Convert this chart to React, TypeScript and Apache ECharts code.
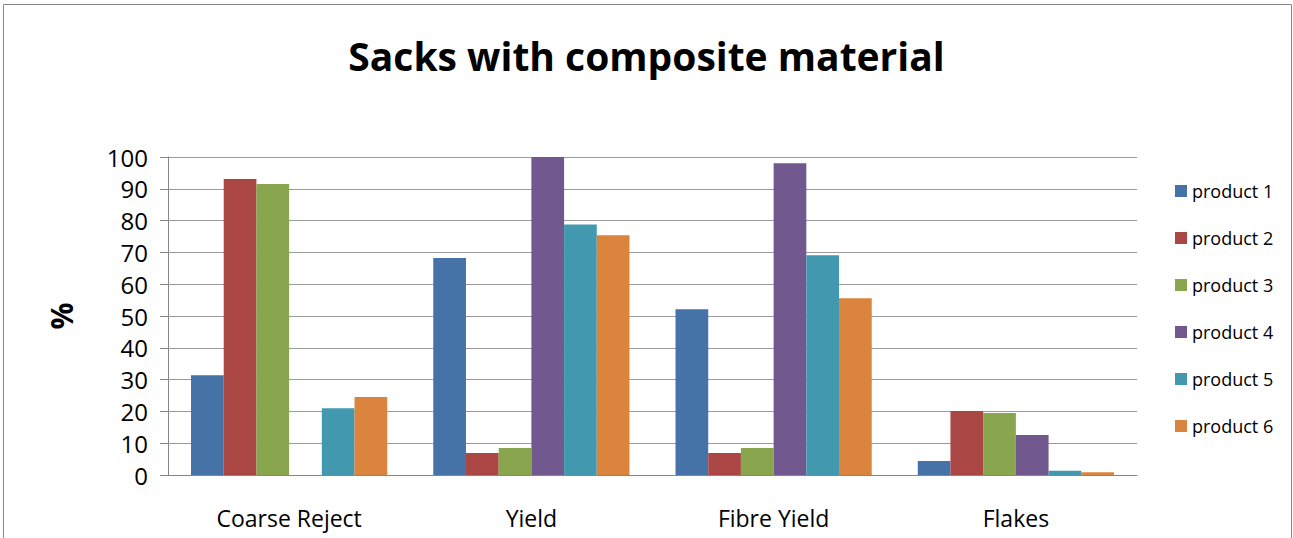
import React, { useEffect, useRef } from "react";
import * as echarts from "echarts";

const categories = ["Coarse Reject", "Yield", "Fibre Yield", "Flakes"];
const seriesNames = ["product 1", "product 2", "product 3", "product 4", "product 5", "product 6"];
const product1 = [31.4, 68.2, 52.1, 4.4];
const product2 = [93.1, 6.9, 6.9, 20.1];
const product3 = [91.5, 8.5, 8.5, 19.5];
const product4 = [0, 100, 98.0, 12.6];
const product5 = [21.0, 78.8, 69.1, 1.3];
const product6 = [24.5, 75.4, 55.6, 0.9];
const seriesValues = [product1, product2, product3, product4, product5, product6];
const colors = ["#4572A7", "#AA4643", "#89A54E", "#71588F", "#4198AF", "#DB843D"];

const FONT = "Open Sans";

export default function App() {
  const ref = useRef<HTMLDivElement>(null);
  useEffect(() => {
    if (!ref.current) return;
    const chart = echarts.init(ref.current, null, { renderer: "svg" });
    chart.setOption({
      animation: false,
      backgroundColor: "#ffffff",
      textStyle: { fontFamily: FONT },
      title: {
        text: "Sacks with composite material",
        left: "center",
        top: 31,
        textStyle: { fontFamily: FONT, fontSize: 39, fontWeight: "bold", color: "#000" },
      },
      legend: {
        orient: "vertical",
        left: 1170,
        top: 177,
        itemWidth: 12,
        itemHeight: 12,
        itemGap: 29,
        icon: "rect",
        textStyle: { fontFamily: FONT, fontSize: 18, color: "#000", padding: [0, 0, 0, 0] },
        data: seriesNames,
      },
      grid: { left: 168, right: 156, top: 157, bottom: 63, containLabel: false },
      xAxis: {
        type: "category",
        data: categories,
        axisLine: { lineStyle: { color: "#868686", width: 1 } },
        axisTick: { show: false },
        axisLabel: { fontFamily: FONT, fontSize: 23, color: "#000", margin: 31 },
      },
      yAxis: {
        type: "value",
        min: 0,
        max: 100,
        interval: 10,
        name: "%",
        nameLocation: "middle",
        nameGap: 92,
        nameRotate: 90,
        nameTextStyle: { fontFamily: FONT, fontSize: 30, fontWeight: "bold", color: "#000" },
        axisLine: { show: true, lineStyle: { color: "#868686", width: 1 } },
        axisTick: { show: true, length: 8, lineStyle: { color: "#868686" } },
        axisLabel: { fontFamily: FONT, fontSize: 24, color: "#000", margin: 20 },
        splitLine: { show: true, lineStyle: { color: "#9a9a9a", width: 1 } },
      },
      series: seriesNames.map((name, i) => ({
        name,
        type: "bar",
        data: seriesValues[i],
        barGap: "0%",
        barCategoryGap: "19%",
        itemStyle: { color: colors[i] },
      })),
      graphic: [
        {
          type: "rect",
          shape: { x: 3.5, y: 4.5, width: 1288, height: 600 },
          style: { fill: "none", stroke: "#888888", lineWidth: 1 },
          silent: true,
        },
      ],
    });
    return () => chart.dispose();
  }, []);
  return (
    <div
      ref={ref}
      style={{ position: "absolute", left: 0, top: 0, width: 1293, height: 538 }}
    />
  );
}
